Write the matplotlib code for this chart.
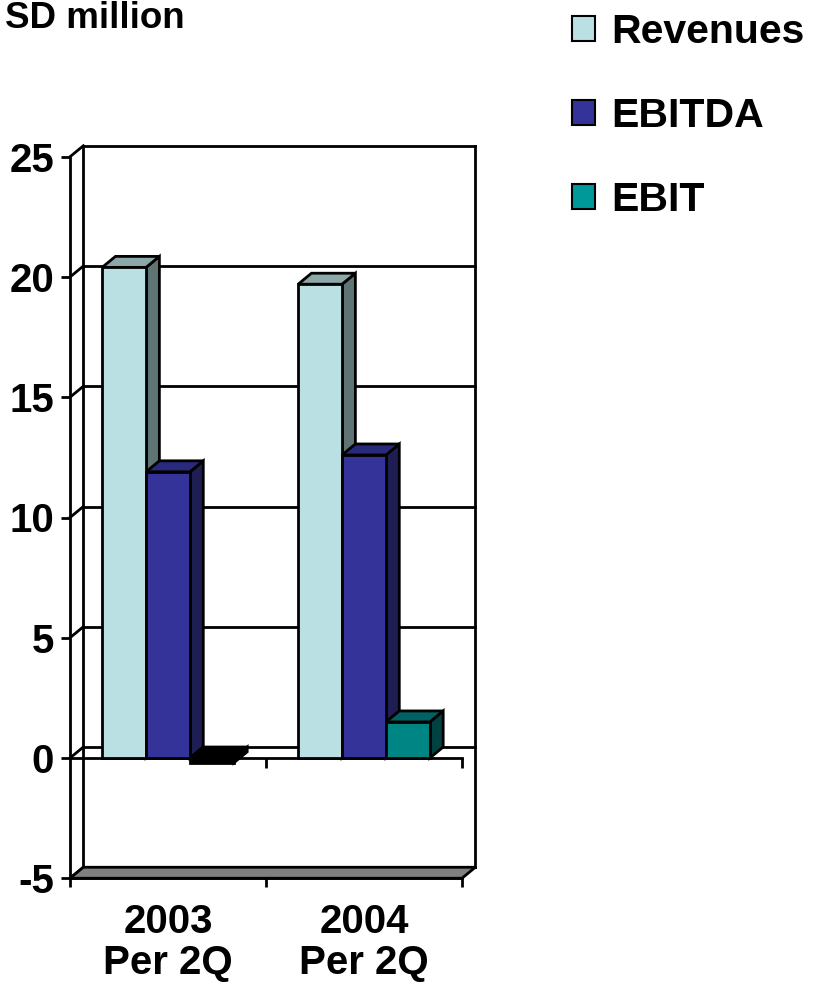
import numpy as np
import matplotlib.pyplot as plt
from matplotlib.patches import Polygon, Patch

plt.rcParams['font.family'] = ['Liberation Sans', 'DejaVu Sans']
plt.rcParams['font.weight'] = 'bold'

# --- data ---
groups = ['2003\nPer 2Q', '2004\nPer 2Q']
series = ['Revenues', 'EBITDA', 'EBIT']
revenues = [20.4, 19.7]
ebitda = [11.9, 12.6]
ebit = [-0.2, 1.5]
values = [revenues, ebitda, ebit]
yticks = [-5, 0, 5, 10, 15, 20, 25]

# face colours per series: front, top, side
front_col = ['#BBE0E3', '#333399', '#008585']
top_col = ['#8CA8A9', '#2A2A7C', '#006262']
side_col = ['#5F7474', '#1E1E52', '#004242']
legend_col = ['#BBE0E3', '#333399', '#009999']

# --- 3d look parameters ---
DX, DY = 0.068, 0.457      # depth offset of back wall / bars
BAR_W = 0.224              # width of one bar
LW = 2.0
ymin, ymax = yticks[0], yticks[-1]
n = len(groups)

fig = plt.figure(figsize=(8.16, 9.9), dpi=100)
W_PX, H_PX = 816, 990
x0_px, x_scale = 70, 196.0
y0_px, y_scale = 758, 24.05
xlim = (-0.12, n + 0.2)
ylim = (-5.8, 26.0)
left = (x0_px + x_scale * xlim[0]) / W_PX
width = x_scale * (xlim[1] - xlim[0]) / W_PX
bottom = (H_PX - (y0_px - y_scale * ylim[0])) / H_PX
height = y_scale * (ylim[1] - ylim[0]) / H_PX
ax = fig.add_axes([left, bottom, width, height])
ax.set_xlim(*xlim)
ax.set_ylim(*ylim)
ax.set_facecolor('none')

# back wall gridlines and the left wall diagonals
for t in yticks:
    ax.plot([DX, n + DX], [t + DY, t + DY], color='black', lw=LW, zorder=1,
            solid_capstyle='projecting')
    ax.plot([0, DX], [t, t + DY], color='black', lw=LW, zorder=1)
for xe in (DX, n + DX):
    ax.plot([xe, xe], [ymin + DY, ymax + DY], color='black', lw=LW, zorder=1)

# floor
ax.add_patch(Polygon([(0, ymin), (n, ymin), (n + DX, ymin + DY), (DX, ymin + DY)],
                     closed=True, facecolor='#808080', edgecolor='black', lw=LW, zorder=1.5))

# zero plane front edge with its ticks
ax.plot([0, n], [0, 0], color='black', lw=LW, zorder=1.5)
ax.vlines(np.arange(1, n + 1), -0.42, 0, color='black', lw=LW, zorder=1.5)

# bars: front via ax.bar, top and side faces as polygons
offset = (1 - BAR_W * len(series)) / 2
for s, vals in enumerate(values):
    xs = np.arange(n) + offset + s * BAR_W
    fc = [front_col[s] if v >= 0 else 'black' for v in vals]
    ax.bar(xs, vals, width=BAR_W, align='edge', color=fc, edgecolor='black',
           lw=LW, zorder=3)
    for x, v in zip(xs, vals):
        lo, hi = min(0, v), max(0, v)
        tc = top_col[s] if v >= 0 else 'black'
        sc = side_col[s] if v >= 0 else 'black'
        ax.add_patch(Polygon([(x, hi), (x + BAR_W, hi), (x + BAR_W + DX, hi + DY), (x + DX, hi + DY)],
                             closed=True, facecolor=tc, edgecolor='black', lw=LW, zorder=2.5))
        ax.add_patch(Polygon([(x + BAR_W, lo), (x + BAR_W, hi), (x + BAR_W + DX, hi + DY), (x + BAR_W + DX, lo + DY)],
                             closed=True, facecolor=sc, edgecolor='black', lw=LW, zorder=2))

# front axes
for side in ('top', 'right'):
    ax.spines[side].set_visible(False)
ax.spines['left'].set_position(('data', 0))
ax.spines['left'].set_bounds(ymin, ymax)
ax.spines['bottom'].set_position(('data', ymin))
ax.spines['bottom'].set_bounds(0, n)
for side in ('left', 'bottom'):
    ax.spines[side].set_linewidth(LW)
    ax.spines[side].set_zorder(4)

ax.set_yticks(yticks)
ax.set_yticklabels([str(t) for t in yticks])
ax.tick_params(axis='y', direction='out', length=6.5, width=LW, pad=5, labelsize=29)
ax.set_xticks(np.arange(n + 1))
ax.set_xticklabels([''] * (n + 1))
ax.set_xticks(np.arange(n) + 0.5, minor=True)
ax.set_xticklabels(groups, minor=True, fontsize=29, linespacing=1.08)
ax.tick_params(axis='x', which='major', direction='out', length=6.5, width=LW)
ax.tick_params(axis='x', which='minor', length=0, pad=18)
for lab in ax.get_yticklabels() + ax.get_xticklabels(minor=True):
    lab.set_fontweight('bold')

fig.text(5 / W_PX, 1 - 28 / H_PX, 'SD million', fontsize=26.5, fontweight='bold', va='baseline')

handles = [Patch(facecolor=legend_col[i], edgecolor='black', lw=1.5) for i in range(len(series))]
fig.legend(handles, series, loc='upper left', bbox_to_anchor=(572 / W_PX, 1 - 13 / H_PX),
           frameon=False, prop={'family': 'Liberation Sans', 'weight': 'bold', 'size': 29.5},
           handlelength=0.55, handleheight=0.55, handletextpad=0.4, labelspacing=1.12,
           borderpad=0, borderaxespad=0)

fig.savefig('out.png', dpi=100)
